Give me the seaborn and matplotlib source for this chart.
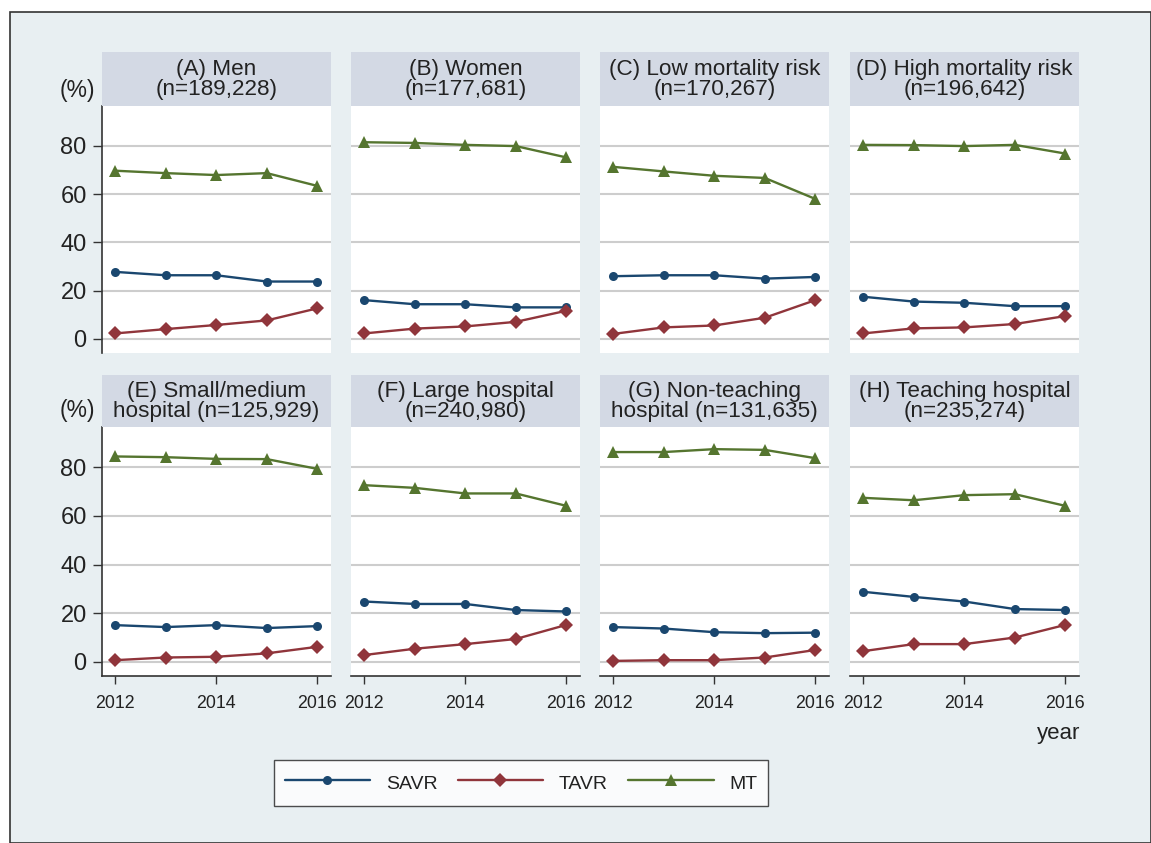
import matplotlib
matplotlib.use("Agg")
import matplotlib.pyplot as plt
import numpy as np
import pandas as pd
import seaborn as sns
from matplotlib.patches import Rectangle
from matplotlib.lines import Line2D

# ---- data -------------------------------------------------------------
years = [2012, 2013, 2014, 2015, 2016]

panel_titles = [
    "(A) Men\n(n=189,228)",
    "(B) Women\n(n=177,681)",
    "(C) Low mortality risk\n(n=170,267)",
    "(D) High mortality risk\n(n=196,642)",
    "(E) Small/medium\nhospital (n=125,929)",
    "(F) Large hospital\n(n=240,980)",
    "(G) Non-teaching\nhospital (n=131,635)",
    "(H) Teaching hospital\n(n=235,274)",
]

savr_pct = [
    [27.8, 26.4, 26.4, 23.8, 23.8],
    [16.1, 14.4, 14.4, 13.1, 13.1],
    [26.0, 26.4, 26.4, 25.0, 25.7],
    [17.5, 15.5, 15.0, 13.6, 13.6],
    [15.1, 14.3, 15.1, 13.9, 14.7],
    [24.8, 23.8, 23.8, 21.3, 20.7],
    [14.3, 13.7, 12.2, 11.8, 12.0],
    [28.8, 26.7, 24.8, 21.7, 21.3],
]
tavr_pct = [
    [2.3, 4.1, 5.8, 7.7, 12.7],
    [2.3, 4.3, 5.2, 7.1, 11.7],
    [2.1, 4.8, 5.6, 8.8, 16.1],
    [2.3, 4.4, 4.8, 6.2, 9.5],
    [0.7, 1.8, 2.1, 3.5, 6.2],
    [2.8, 5.4, 7.3, 9.4, 15.2],
    [0.4, 0.7, 0.7, 1.8, 4.9],
    [4.4, 7.3, 7.3, 10.0, 15.2],
]
mt_pct = [
    [69.7, 68.7, 67.9, 68.7, 63.4],
    [81.5, 81.2, 80.4, 79.9, 75.2],
    [71.3, 69.4, 67.6, 66.7, 58.0],
    [80.4, 80.3, 79.9, 80.4, 76.8],
    [84.4, 84.1, 83.4, 83.3, 79.3],
    [72.6, 71.5, 69.2, 69.2, 64.1],
    [86.2, 86.2, 87.4, 87.1, 83.7],
    [67.4, 66.4, 68.5, 68.9, 64.1],
]

procedures = ["SAVR", "TAVR", "MT"]
y_ticks = [0, 20, 40, 60, 80]
x_ticks = [2012, 2014, 2016]

rows = []
for p in range(len(panel_titles)):
    for name, series in zip(procedures, (savr_pct, tavr_pct, mt_pct)):
        for yr, v in zip(years, series[p]):
            rows.append({"panel": p, "year": yr, "proc": name, "pct": v})
df = pd.DataFrame(rows)

# ---- style --------------------------------------------------------------
sns.set_theme(style="white")
plt.rcParams["font.family"] = ["Liberation Sans", "DejaVu Sans"]

palette = {"SAVR": "#1a476f", "TAVR": "#90353b", "MT": "#55752f"}
markers = {"SAVR": "o", "TAVR": "D", "MT": "^"}
msizes = {"SAVR": 6.5, "TAVR": 7.5, "MT": 8}
outer_bg = "#e8eff2"
strip_bg = "#d3d9e4"
grid_col = "#cdcdcd"
ink = "#222222"

W, H = 1151, 843
fig = plt.figure(figsize=(W / 100, H / 100), dpi=100, facecolor="white")


def fx(px):
    return px / W


def fy(py):
    return 1 - py / H


# graph region with frame
fig.add_artist(Rectangle((fx(10), 0), 1 - fx(10), fy(12), transform=fig.transFigure,
                         facecolor=outer_bg, edgecolor="#333333", linewidth=1.2, zorder=0))

col_left = [102, 351, 600, 850]
panel_w = 229
row_geom = [  # strip top, plot top, plot bottom
    (52, 106, 353),
    (375, 427, 676),
]

for p, title in enumerate(panel_titles):
    r, c = divmod(p, 4)
    st, pt, pb = row_geom[r]
    left = col_left[c]

    # strip header
    fig.add_artist(Rectangle((fx(left), fy(pt)), fx(panel_w), fy(st) - fy(pt),
                             transform=fig.transFigure, facecolor=strip_bg,
                             edgecolor="none", zorder=1))
    fig.text(fx(left + panel_w / 2), (fy(st) + fy(pt)) / 2 - 0.001, title,
             ha="center", va="center", fontsize=16.2, color=ink, linespacing=0.93)

    ax = fig.add_axes([fx(left), fy(pb), fx(panel_w), fy(pt) - fy(pb)])
    ax.set_facecolor("white")
    sub = df[df["panel"] == p]
    for name in procedures:
        sns.lineplot(data=sub[sub["proc"] == name], x="year", y="pct",
                     color=palette[name], marker=markers[name],
                     markersize=msizes[name], markeredgewidth=0,
                     linewidth=1.7, legend=False, ax=ax, zorder=3)

    ax.set_xlim(2011.74, 2016.27)
    ax.set_ylim(-5.8, 96.5)
    ax.set_yticks(y_ticks)
    ax.set_xticks(x_ticks)
    ax.yaxis.grid(True, color=grid_col, linewidth=1.5)
    ax.xaxis.grid(False)
    ax.set_axisbelow(True)
    ax.set_xlabel("")
    ax.set_ylabel("")
    for s in ax.spines.values():
        s.set_visible(False)

    if c == 0:
        ax.spines["left"].set_visible(True)
        ax.spines["left"].set_color("#333333")
        ax.spines["left"].set_linewidth(1.2)
        ax.tick_params(axis="y", left=True, length=6.5, width=1, color="#333333",
                       labelsize=17, labelcolor=ink, pad=4.5)
        fig.text(fx(77), fy(pt - 16), "(%)", ha="center", va="center",
                 fontsize=16.5, color=ink)
    else:
        ax.tick_params(axis="y", left=False, labelleft=False)

    if r == 1:
        ax.spines["bottom"].set_visible(True)
        ax.spines["bottom"].set_color("#333333")
        ax.spines["bottom"].set_linewidth(1.2)
        ax.tick_params(axis="x", bottom=True, length=6, width=1, color="#333333",
                       labelsize=12.8, labelcolor=ink, pad=8)
    else:
        ax.tick_params(axis="x", bottom=False, labelbottom=False)

fig.text(fx(1059), fy(733), "year", ha="center", va="center", fontsize=16, color=ink)

handles = [Line2D([], [], color=palette[n], marker=markers[n], markersize=msizes[n],
                  markeredgewidth=0, linewidth=1.7) for n in procedures]
leg = fig.legend(handles, procedures, loc="center",
                 bbox_to_anchor=(fx(521), fy(783)), ncol=3, fontsize=14,
                 frameon=True, fancybox=False, edgecolor="#222222",
                 handlelength=4.4, handleheight=1.5, handletextpad=0.8,
                 columnspacing=1.05, borderpad=0.55, borderaxespad=0)
leg.get_frame().set_linewidth(1.0)
leg.get_frame().set_facecolor("white")
for t in leg.get_texts():
    t.set_color(ink)

fig.savefig("out.png", dpi=100, facecolor=fig.get_facecolor())
